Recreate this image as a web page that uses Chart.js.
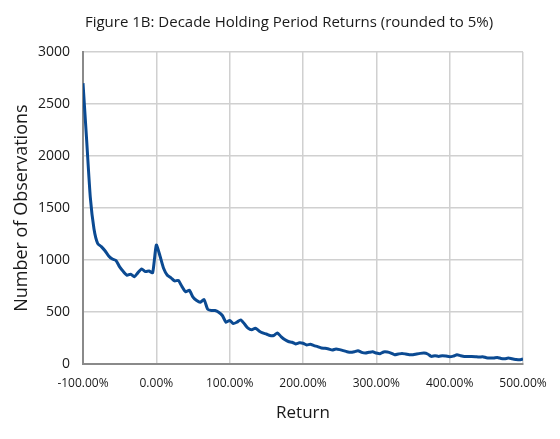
<!DOCTYPE html>
<html>
<head>
<meta charset="utf-8">
<script src="https://cdn.jsdelivr.net/npm/chart.js@4/dist/chart.umd.min.js"></script>
<style>
  html, body { margin: 0; padding: 0; background: #ffffff; }
  #wrap { width: 560px; height: 439px; }
</style>
</head>
<body>
<div id="wrap"><canvas id="returnsChart"></canvas></div>
<script>
// Decade holding period returns, rounded to 5% (x in %)
const returns = [
    -100, -95, -90, -85, -80, -75, -70, -65, -60, -55,
    -50, -45, -40, -35, -30, -25, -20, -15, -10, -5,
    0, 5, 10, 15, 20, 25, 30, 35, 40, 45,
    50, 55, 60, 65, 70, 75, 80, 85, 90, 95,
    100, 105, 110, 115, 120, 125, 130, 135, 140, 145,
    150, 155, 160, 165, 170, 175, 180, 185, 190, 195,
    200, 205, 210, 215, 220, 225, 230, 235, 240, 245,
    250, 255, 260, 265, 270, 275, 280, 285, 290, 295,
    300, 305, 310, 315, 320, 325, 330, 335, 340, 345,
    350, 355, 360, 365, 370, 375, 380, 385, 390, 395,
    400, 405, 410, 415, 420, 425, 430, 435, 440, 445,
    450, 455, 460, 465, 470, 475, 480, 485, 490, 495,
    500
];

// Number of observations per bucket
const observations = [
    2700, 2150, 1600, 1300, 1160, 1130, 1090, 1040, 1010, 997,
    935, 890, 855, 865, 840, 880, 915, 890, 895, 880,
    1145, 1040, 920, 855, 830, 800, 805, 745, 695, 710,
    645, 612, 596, 622, 528, 516, 516, 500, 468, 404,
    420, 390, 404, 426, 388, 346, 330, 346, 320, 300,
    290, 276, 276, 300, 266, 237, 218, 211, 195, 205,
    201, 185, 192, 179, 169, 156, 153, 146, 136, 146,
    140, 130, 120, 114, 120, 130, 114, 107, 114, 120,
    107, 100, 118, 117, 107, 91, 98, 104, 98, 91,
    91, 98, 104, 107, 98, 75, 82, 75, 82, 78,
    72, 78, 91, 82, 75, 75, 75, 72, 68, 72,
    62, 59, 59, 65, 55, 52, 59, 52, 46, 42,
    50
];

const titleText = "Figure 1B: Decade Holding Period Returns (rounded to 5%)";
const xTitle = "Return";
const yTitle = "Number of Observations";

const fontFamily = "'Open Sans', 'DejaVu Sans', sans-serif";
Chart.defaults.font.family = fontFamily;
Chart.defaults.color = '#1a1a1a';

const points = returns.map((r, i) => ({ x: r, y: observations[i] }));

// Title is drawn a bit right of the canvas centre, like the original figure
const figureTitle = {
    id: 'figureTitle',
    afterDraw(chart) {
        const ctx = chart.ctx;
        ctx.save();
        ctx.font = "15px " + fontFamily;
        ctx.fillStyle = '#1a1a1a';
        ctx.textAlign = 'center';
        ctx.textBaseline = 'middle';
        ctx.fillText(titleText, 289, 23);
        ctx.restore();
    }
};

new Chart(document.getElementById('returnsChart'), {
    type: 'line',
    data: {
        datasets: [{
            label: 'Observations',
            data: points,
            borderColor: '#0b4a92',
            borderWidth: 3,
            pointRadius: 0,
            tension: 0.2,
            fill: false
        }]
    },
    options: {
        responsive: true,
        maintainAspectRatio: false,
        animation: false,
        layout: { padding: { left: 11, right: 37, top: 52, bottom: 16 } },
        plugins: {
            legend: { display: false },
            tooltip: { enabled: false },
            title: { display: false }
        },
        scales: {
            x: {
                type: 'linear',
                min: -100,
                max: 500,
                ticks: {
                    stepSize: 100,
                    color: '#1a1a1a',
                    font: { size: 12 },
                    maxRotation: 0,
                    padding: 12,
                    callback: v => v.toFixed(2) + '%'
                },
                grid: { color: '#d0d0d0', lineWidth: 1.5, drawTicks: false },
                border: { color: '#8a8a8a', width: 2 },
                title: {
                    display: true,
                    text: xTitle,
                    color: '#1a1a1a',
                    font: { size: 17 },
                    padding: { top: 0, bottom: 0 }
                }
            },
            y: {
                min: 0,
                max: 3000,
                afterFit: scale => { scale.width = 72; },
                ticks: {
                    stepSize: 500,
                    color: '#1a1a1a',
                    font: { size: 14 },
                    padding: 13,
                    callback: v => String(v)
                },
                grid: { color: '#d0d0d0', lineWidth: 1.5, drawTicks: false },
                border: { color: '#8a8a8a', width: 2 },
                title: {
                    display: true,
                    text: yTitle,
                    color: '#1a1a1a',
                    font: { size: 18 },
                    padding: { top: 0, bottom: 0 }
                }
            }
        }
    },
    plugins: [figureTitle]
});
</script>
</body>
</html>
